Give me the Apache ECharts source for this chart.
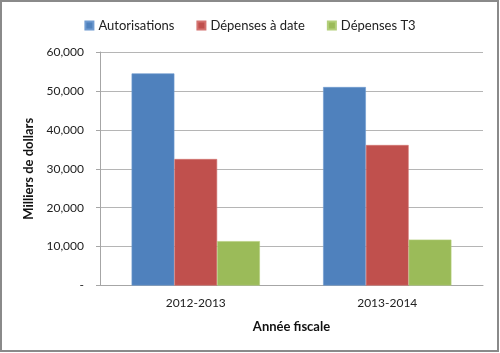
<!DOCTYPE html>
<html><head><meta charset="utf-8">
<script src="https://cdn.jsdelivr.net/npm/echarts@6/dist/echarts.min.js"></script>
<style>html,body{margin:0;padding:0;background:#fff}#c{width:500px;height:353px}</style>
</head><body><div id="c"></div>
<script>
const categories = ['2012-2013', '2013-2014'];
const seriesNames = ['Autorisations', 'Dépenses à date', 'Dépenses T3'];
const autorisations = [54500, 51000];
const depensesADate = [32500, 36100];
const depensesT3 = [11400, 11800];
const yTicks = [0, 10000, 20000, 30000, 40000, 50000, 60000];

const colors = ['#4F81BD', '#C0504D', '#9BBB59'];
const borders = ['#6E9AD0', '#D47370', '#B3CF7A'];
const font = 'Lato, "Open Sans", sans-serif';
const chart = echarts.init(document.getElementById('c'));
const values = [autorisations, depensesADate, depensesT3];
chart.setOption({
  animation: false,
  color: colors,
  textStyle: {fontFamily: font},
  legend: {
    top: 14, left: 'center', itemWidth: 8, itemHeight: 8, itemGap: 22,
    icon: 'rect',
    textStyle: {fontSize: 13, color: '#222', fontFamily: font},
    data: seriesNames
  },
  graphic: [{
    type: 'rect', shape: {x: 1, y: 1, width: 497, height: 350},
    style: {fill: 'none', stroke: '#8a8a8a', lineWidth: 2}, z: 100
  }],
  grid: {left: 100, right: 17, top: 52, bottom: 67.5},
  xAxis: {
    type: 'category', data: categories,
    axisLine: {lineStyle: {color: '#a6a6a6'}},
    axisTick: {show: false},
    axisLabel: {fontSize: 12, color: '#222', margin: 12, fontFamily: font},
    name: 'Année fiscale', nameLocation: 'middle', nameGap: 35,
    nameTextStyle: {fontSize: 13, fontWeight: 'bold', color: '#111', fontFamily: font}
  },
  yAxis: {
    type: 'value', min: yTicks[0], max: yTicks[yTicks.length - 1], interval: 10000,
    axisLine: {show: true, lineStyle: {color: '#a6a6a6'}},
    axisTick: {show: true, inside: false, length: 4, lineStyle: {color: '#a6a6a6'}},
    splitLine: {lineStyle: {color: '#b5b5b5', width: 1}},
    axisLabel: {
      fontSize: 12, color: '#222', margin: 16, fontFamily: font,
      formatter: v => v === 0 ? '-' : v.toLocaleString('en-US')
    },
    name: 'Milliers de dollars', nameLocation: 'middle', nameGap: 62, nameRotate: 90,
    nameTextStyle: {fontSize: 13, fontWeight: 'bold', color: '#111', fontFamily: font}
  },
  series: seriesNames.map((n, i) => ({
    name: n, type: 'bar', data: values[i],
    barGap: '0%', barCategoryGap: '33%',
    itemStyle: {color: colors[i], borderColor: borders[i], borderWidth: 0.6}
  }))
});
</script></body></html>
